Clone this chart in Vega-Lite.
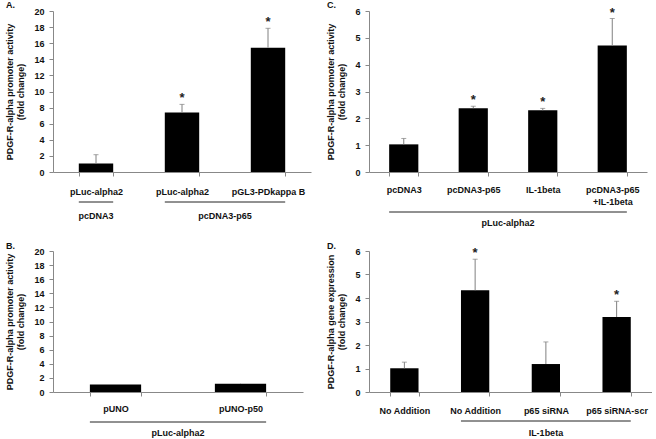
{
  "$schema": "https://vega.github.io/schema/vega-lite/v6.json",
  "padding": {"left": 5, "top": 0, "right": 0, "bottom": 0},
  "background": "white",
  "columns": 2,
  "spacing": {"row": 14, "column": 15},
  "config": {
    "view": {"stroke": null},
    "font": "Liberation Sans, Arial, sans-serif",
    "axis": {
      "grid": false,
      "labelFontWeight": "bold",
      "labelFontSize": 9,
      "labelColor": "#111",
      "labelOverlap": false,
      "titleFontWeight": "bold",
      "titleFontSize": 9,
      "titleColor": "#111",
      "titleLineHeight": 11,
      "domainColor": "#888",
      "tickColor": "#888"
    },
    "axisX": {"tickBand": "extent", "tickSize": 4, "labelPadding": 10, "labelAngle": 0},
    "axisY": {"tickSize": 4, "labelPadding": 5, "titlePadding": 8},
    "title": {"fontSize": 9, "fontWeight": "bold", "color": "#111", "anchor": "start", "frame": "bounds", "offset": -3},
    "text": {"font": "Liberation Sans, Arial, sans-serif"}
  },
  "concat": [
    {
      "width": 258, "height": 161,
      "title": {"text": "A."},
      "data": {"values": [
        {"cat": "pLuc-alpha2|1", "value": 1.05, "upper": 2.15, "star": ""},
        {"cat": "pLuc-alpha2|2", "value": 7.4, "upper": 8.4, "star": "*"},
        {"cat": "pGL3-PDkappa B", "value": 15.45, "upper": 17.85, "star": "*"}
      ]},
      "layer": [
        {"mark": {"type": "bar", "color": "#000"},
         "encoding": {
           "x": {"field": "cat", "type": "nominal", "title": null, "scale": {"domain": ["pLuc-alpha2|1", "pLuc-alpha2|2", "pGL3-PDkappa B"], "paddingInner": 0.6, "paddingOuter": 0.3}, "axis": {"labelExpr": "split(datum.label,'|')[0]", "labelPadding": 11}},
           "y": {"field": "value", "type": "quantitative", "scale": {"domain": [0, 20]}, "axis": {"values": [0,2,4,6,8,10,12,14,16,18,20], "tickCount": 11, "title": ["PDGF-R-alpha promoter activity", "(fold change)"]}}
         }},
        {"mark": {"type": "rule", "color": "#808080"},
         "encoding": {"x": {"field": "cat", "type": "nominal", "title": null}, "y": {"field": "value", "type": "quantitative"}, "y2": {"field": "upper"}}},
        {"mark": {"type": "tick", "orient": "horizontal", "size": 5, "thickness": 1, "color": "#808080"},
         "encoding": {"x": {"field": "cat", "type": "nominal", "title": null}, "y": {"field": "upper", "type": "quantitative"}}},
        {"mark": {"type": "text", "baseline": "alphabetic", "dy": -2, "fontSize": 13, "fontWeight": "bold", "color": "#222"},
         "encoding": {"x": {"field": "cat", "type": "nominal", "title": null}, "y": {"field": "upper", "type": "quantitative"}, "text": {"field": "star"}}},
        {"data": {"values": [
           {"g": "pcDNA3", "from": "pLuc-alpha2|1", "to": "pLuc-alpha2|1"},
           {"g": "pcDNA3-p65", "from": "pLuc-alpha2|2", "to": "pGL3-PDkappa B"}
         ]},
         "mark": {"type": "rule", "yOffset": 30, "color": "#222"},
         "encoding": {"x": {"field": "from", "type": "nominal", "bandPosition": 0, "title": null}, "x2": {"field": "to", "bandPosition": 1}, "y": {"datum": 0}}},
        {"data": {"values": [{"g": "pcDNA3", "from": "pLuc-alpha2|1"}]},
         "mark": {"type": "text", "yOffset": 44, "baseline": "middle", "fontSize": 9, "fontWeight": "bold", "color": "#111"},
         "encoding": {"x": {"field": "from", "type": "nominal", "bandPosition": 0.5, "title": null}, "y": {"datum": 0}, "text": {"field": "g"}}},
        {"data": {"values": [{"g": "pcDNA3-p65", "from": "pLuc-alpha2|2"}]},
         "mark": {"type": "text", "yOffset": 44, "baseline": "middle", "fontSize": 9, "fontWeight": "bold", "color": "#111"},
         "encoding": {"x": {"field": "from", "type": "nominal", "bandPosition": 1.75, "title": null}, "y": {"datum": 0}, "text": {"field": "g"}}}
      ]
    },
    {
      "width": 278, "height": 161,
      "title": {"text": "C."},
      "data": {"values": [
        {"cat": "pcDNA3", "value": 1.03, "upper": 1.25, "star": ""},
        {"cat": "pcDNA3-p65", "value": 2.38, "upper": 2.45, "star": "*"},
        {"cat": "IL-1beta", "value": 2.3, "upper": 2.37, "star": "*"},
        {"cat": "pcDNA3-p65|\u00a0\u00a0+IL-1beta", "value": 4.71, "upper": 5.72, "star": "*"}
      ]},
      "layer": [
        {"mark": {"type": "bar", "color": "#000"},
         "encoding": {
           "x": {"field": "cat", "type": "nominal", "title": null, "scale": {"domain": ["pcDNA3", "pcDNA3-p65", "IL-1beta", "pcDNA3-p65|\u00a0\u00a0+IL-1beta"], "paddingInner": 0.58, "paddingOuter": 0.29}, "axis": {"labelExpr": "split(datum.label,'|')", "labelPadding": 9, "labelLineHeight": 12}},
           "y": {"field": "value", "type": "quantitative", "scale": {"domain": [0, 6]}, "axis": {"values": [0,1,2,3,4,5,6], "tickCount": 7, "title": ["PDGF-R-alpha promoter activity", "(fold change)"]}}
         }},
        {"mark": {"type": "rule", "color": "#808080"},
         "encoding": {"x": {"field": "cat", "type": "nominal", "title": null}, "y": {"field": "value", "type": "quantitative"}, "y2": {"field": "upper"}}},
        {"mark": {"type": "tick", "orient": "horizontal", "size": 5, "thickness": 1, "color": "#808080"},
         "encoding": {"x": {"field": "cat", "type": "nominal", "title": null}, "y": {"field": "upper", "type": "quantitative"}}},
        {"mark": {"type": "text", "baseline": "alphabetic", "dy": -2, "fontSize": 13, "fontWeight": "bold", "color": "#222"},
         "encoding": {"x": {"field": "cat", "type": "nominal", "title": null}, "y": {"field": "upper", "type": "quantitative"}, "text": {"field": "star"}}},
        {"data": {"values": [{"g": "pLuc-alpha2", "from": "pcDNA3", "to": "pcDNA3-p65|\u00a0\u00a0+IL-1beta"}]},
         "mark": {"type": "rule", "yOffset": 40, "color": "#222"},
         "encoding": {"x": {"field": "from", "type": "nominal", "bandPosition": 0, "title": null}, "x2": {"field": "to", "bandPosition": 1}, "y": {"datum": 0}}},
        {"data": {"values": [{"g": "pLuc-alpha2", "from": "pcDNA3"}]},
         "mark": {"type": "text", "yOffset": 51, "baseline": "middle", "fontSize": 9, "fontWeight": "bold", "color": "#111"},
         "encoding": {"x": {"field": "from", "type": "nominal", "bandPosition": 4.07, "title": null}, "y": {"datum": 0}, "text": {"field": "g"}}}
      ]
    },
    {
      "width": 250, "height": 141,
      "title": {"text": "B.", "offset": -4},
      "data": {"values": [
        {"cat": "pUNO", "value": 1.08, "upper": 1.13, "star": ""},
        {"cat": "pUNO-p50", "value": 1.18, "upper": 1.23, "star": ""}
      ]},
      "layer": [
        {"mark": {"type": "bar", "color": "#000"},
         "encoding": {
           "x": {"field": "cat", "type": "nominal", "title": null, "scale": {"domain": ["pUNO", "pUNO-p50"], "paddingInner": 0.59, "paddingOuter": 0.295}, "axis": {"labelPadding": 8}},
           "y": {"field": "value", "type": "quantitative", "scale": {"domain": [0, 20]}, "axis": {"values": [0,2,4,6,8,10,12,14,16,18,20], "tickCount": 11, "title": ["PDGF-R-alpha promoter activity", "(fold change)"]}}
         }},
        {"mark": {"type": "rule", "color": "#808080"},
         "encoding": {"x": {"field": "cat", "type": "nominal", "title": null}, "y": {"field": "value", "type": "quantitative"}, "y2": {"field": "upper"}}},
        {"data": {"values": [{"g": "pLuc-alpha2", "from": "pUNO", "to": "pUNO-p50"}]},
         "mark": {"type": "rule", "yOffset": 30, "color": "#222"},
         "encoding": {"x": {"field": "from", "type": "nominal", "bandPosition": 0, "title": null}, "x2": {"field": "to", "bandPosition": 1}, "y": {"datum": 0}}},
        {"data": {"values": [{"g": "pLuc-alpha2", "from": "pUNO"}]},
         "mark": {"type": "text", "yOffset": 41, "baseline": "middle", "fontSize": 9, "fontWeight": "bold", "color": "#111"},
         "encoding": {"x": {"field": "from", "type": "nominal", "bandPosition": 1.72, "title": null}, "y": {"datum": 0}, "text": {"field": "g"}}}
      ]
    },
    {
      "width": 283, "height": 141,
      "title": {"text": "D.", "offset": -4},
      "data": {"values": [
        {"cat": "No Addition|1", "value": 1.01, "upper": 1.27, "star": ""},
        {"cat": "No Addition|2", "value": 4.33, "upper": 5.65, "star": "*"},
        {"cat": "p65 siRNA", "value": 1.19, "upper": 2.13, "star": ""},
        {"cat": "p65 siRNA-scr", "value": 3.19, "upper": 3.86, "star": "*"}
      ]},
      "layer": [
        {"mark": {"type": "bar", "color": "#000"},
         "encoding": {
           "x": {"field": "cat", "type": "nominal", "title": null, "scale": {"domain": ["No Addition|1", "No Addition|2", "p65 siRNA", "p65 siRNA-scr"], "paddingInner": 0.6, "paddingOuter": 0.3}, "axis": {"labelExpr": "split(datum.label,'|')[0]", "labelPadding": 10}},
           "y": {"field": "value", "type": "quantitative", "scale": {"domain": [0, 6]}, "axis": {"values": [0,1,2,3,4,5,6], "tickCount": 7, "title": ["PDGF-R-alpha gene expression", "(fold change)"]}}
         }},
        {"mark": {"type": "rule", "color": "#808080"},
         "encoding": {"x": {"field": "cat", "type": "nominal", "title": null}, "y": {"field": "value", "type": "quantitative"}, "y2": {"field": "upper"}}},
        {"mark": {"type": "tick", "orient": "horizontal", "size": 5, "thickness": 1, "color": "#808080"},
         "encoding": {"x": {"field": "cat", "type": "nominal", "title": null}, "y": {"field": "upper", "type": "quantitative"}}},
        {"mark": {"type": "text", "baseline": "alphabetic", "dy": -2, "fontSize": 13, "fontWeight": "bold", "color": "#222"},
         "encoding": {"x": {"field": "cat", "type": "nominal", "title": null}, "y": {"field": "upper", "type": "quantitative"}, "text": {"field": "star"}}},
        {"data": {"values": [{"g": "IL-1beta", "from": "No Addition|2", "to": "p65 siRNA-scr"}]},
         "mark": {"type": "rule", "yOffset": 29, "color": "#222"},
         "encoding": {"x": {"field": "from", "type": "nominal", "bandPosition": 0, "title": null}, "x2": {"field": "to", "bandPosition": 1}, "y": {"datum": 0}}},
        {"data": {"values": [{"g": "IL-1beta", "from": "No Addition|2"}]},
         "mark": {"type": "text", "yOffset": 41, "baseline": "middle", "fontSize": 9, "fontWeight": "bold", "color": "#111"},
         "encoding": {"x": {"field": "from", "type": "nominal", "bandPosition": 3.0, "title": null}, "y": {"datum": 0}, "text": {"field": "g"}}}
      ]
    }
  ]
}
